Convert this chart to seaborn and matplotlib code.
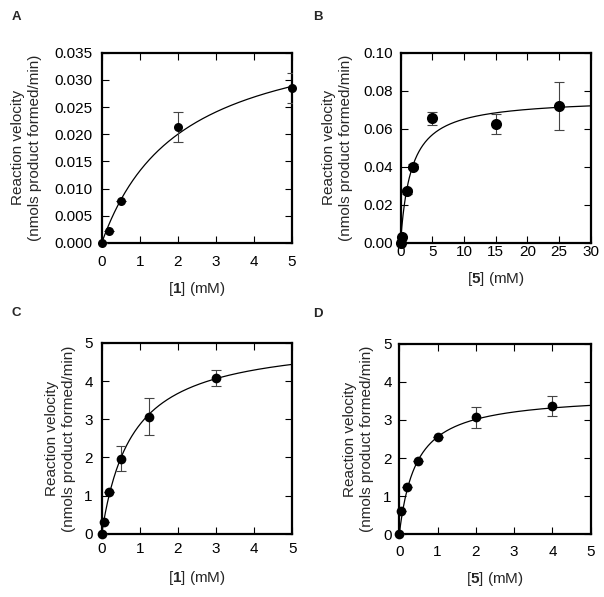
import numpy as np
import pandas as pd
import matplotlib
matplotlib.use("Agg")
import matplotlib.pyplot as plt
import seaborn as sns

# Panel A: substrate 1, first enzyme
a_conc = [0, 0.2, 0.5, 2, 5]
a_rate = [0, 0.0022, 0.0078, 0.0213, 0.0285]
a_err = [0, 0, 0, 0.0028, 0.0028]
a_vmax, a_km = 0.0408, 2.08

# Panel B: substrate 5, first enzyme
b_conc = [0, 0.2, 1, 2, 5, 15, 25]
b_rate = [0, 0.003, 0.027, 0.040, 0.0655, 0.0625, 0.072]
b_err = [0, 0, 0.0012, 0.0012, 0.0035, 0.0052, 0.0125]
b_vmax, b_km = 0.0761, 1.71

# Panel C: substrate 1, second enzyme
c_conc = [0, 0.05, 0.2, 0.5, 1.25, 3]
c_rate = [0, 0.3, 1.1, 1.97, 3.07, 4.08]
c_err = [0, 0, 0, 0.33, 0.48, 0.2]
c_vmax, c_km = 5.15, 0.8

# Panel D: substrate 5, second enzyme
d_conc = [0, 0.05, 0.2, 0.5, 1, 2, 4]
d_rate = [0, 0.62, 1.25, 1.92, 2.55, 3.07, 3.37]
d_err = [0, 0, 0, 0, 0, 0.28, 0.27]
d_vmax, d_km = 3.68, 0.44

sns.set_style("ticks")
plt.rcParams["font.family"] = ["Liberation Sans", "DejaVu Sans"]
plt.rcParams["mathtext.fontset"] = "custom"
plt.rcParams["mathtext.rm"] = "Liberation Sans"
plt.rcParams["mathtext.bf"] = "Liberation Sans:bold"

W, H = 604, 597
fig = plt.figure(figsize=(W / 100, H / 100), dpi=100)


def make_axes(x0, y0, x1, y1):
    return fig.add_axes([x0 / W, 1 - y1 / H, (x1 - x0) / W, (y1 - y0) / H])


panels = [
    dict(letter="A", box=(101.7, 52.7, 292, 243), letter_xy=(12, 16.5),
         conc=a_conc, rate=a_rate, err=a_err, vmax=a_vmax, km=a_km,
         xmax=5, xticks=np.arange(0, 6, 1), ymax=0.035,
         yticks=np.arange(0, 0.0351, 0.005), yfmt="{:.3f}", sub="1", ms=6.5,
         xpad=9, ypad=6.5, ylab_x=-0.314, xlab_y=-0.195),
    dict(letter="B", box=(400.5, 52.7, 590.7, 242.5), letter_xy=(313, 16.5),
         conc=b_conc, rate=b_rate, err=b_err, vmax=b_vmax, km=b_km,
         xmax=30, xticks=np.arange(0, 31, 5), ymax=0.10,
         yticks=np.arange(0, 0.101, 0.02), yfmt="{:.2f}", sub="5", ms=8,
         xpad=2, ypad=5.5, ylab_x=-0.25, xlab_y=-0.145),
    dict(letter="C", box=(101.7, 343, 292.3, 533.7), letter_xy=(12, 313.5),
         conc=c_conc, rate=c_rate, err=c_err, vmax=c_vmax, km=c_km,
         xmax=5, xticks=np.arange(0, 6, 1), ymax=5,
         yticks=np.arange(0, 6, 1), yfmt="{:.0f}", sub="1", ms=7,
         xpad=6.2, ypad=6.5, ylab_x=-0.135, xlab_y=-0.185),
    dict(letter="D", box=(399.3, 343.7, 590.7, 534.3), letter_xy=(313, 314),
         conc=d_conc, rate=d_rate, err=d_err, vmax=d_vmax, km=d_km,
         xmax=5, xticks=np.arange(0, 6, 1), ymax=5,
         yticks=np.arange(0, 6, 1), yfmt="{:.0f}", sub="5", ms=7,
         xpad=7.6, ypad=5.5, ylab_x=-0.133, xlab_y=-0.188),
]

for p in panels:
    ax = make_axes(*p["box"])

    # Michaelis-Menten fit line
    xs = np.linspace(0, p["xmax"], 300)
    fit = pd.DataFrame({"x": xs, "y": p["vmax"] * xs / (p["km"] + xs)})
    sns.lineplot(data=fit, x="x", y="y", ax=ax, color="black", linewidth=0.9)

    ax.errorbar(p["conc"], p["rate"], yerr=p["err"], fmt="none",
                ecolor="#444444", elinewidth=0.8, capsize=3.8, capthick=0.8,
                zorder=3)
    pts = pd.DataFrame({"x": p["conc"], "y": p["rate"]})
    sns.scatterplot(data=pts, x="x", y="y", ax=ax, color="black",
                    s=p["ms"] ** 2, edgecolor="black", linewidth=0, zorder=4,
                    clip_on=False)

    ax.set_xlim(0, p["xmax"])
    ax.set_ylim(0, p["ymax"])
    ax.set_xticks(p["xticks"])
    ax.set_xticklabels([str(int(t)) for t in p["xticks"]])
    ax.set_yticks(p["yticks"])
    ax.set_yticklabels([p["yfmt"].format(t) for t in p["yticks"]])
    ax.tick_params(direction="in", top=True, right=True, length=5, width=0.8,
                   labelsize=11, colors="black")
    ax.tick_params(axis="x", pad=p["xpad"])
    ax.tick_params(axis="y", pad=p["ypad"])
    for sp in ax.spines.values():
        sp.set_visible(True)
        sp.set_linewidth(1.6)
        sp.set_color("black")

    ax.set_xlabel("[$\\mathbf{" + p["sub"] + "}$] (mM)", fontsize=11)
    ax.set_ylabel("Reaction velocity\n(nmols product formed/min)",
                  fontsize=11, linespacing=1.25)
    ax.xaxis.set_label_coords(0.5, p["xlab_y"])
    ax.yaxis.set_label_coords(p["ylab_x"], 0.5)

    lx, ly = p["letter_xy"]
    fig.text(lx / W, 1 - ly / H, p["letter"], fontsize=9.5,
             fontweight="bold", va="center", ha="left")

fig.savefig("out.png", dpi=100)
